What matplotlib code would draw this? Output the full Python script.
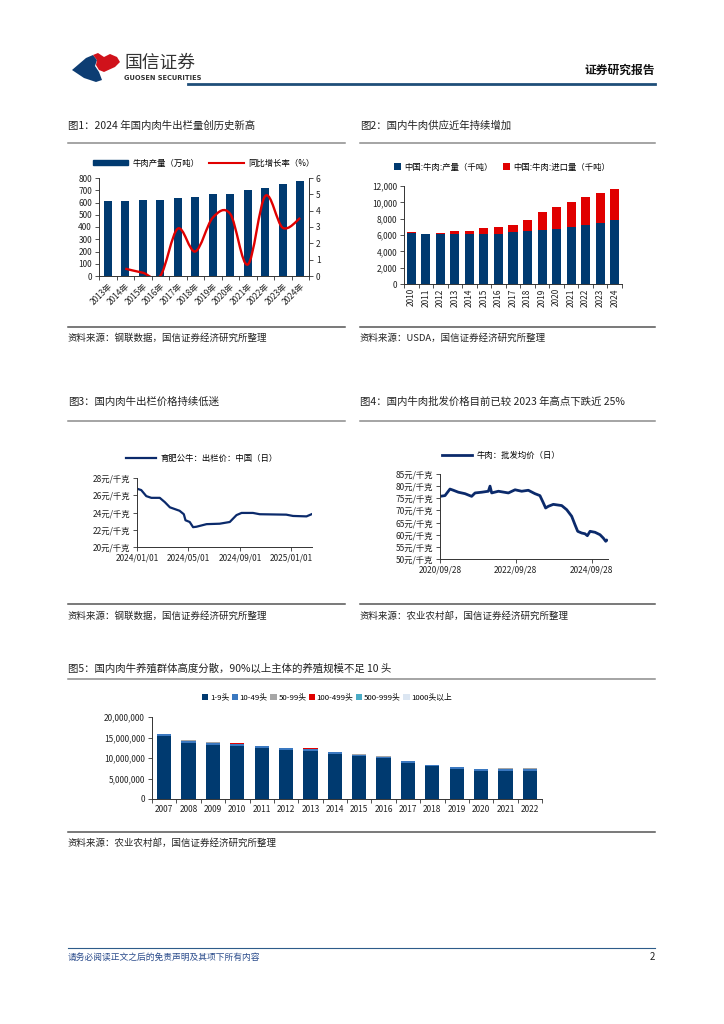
import matplotlib
matplotlib.use("Agg")
import matplotlib.pyplot as plt
import numpy as np
import pandas as pd
import matplotlib.dates as mdates
from matplotlib.lines import Line2D
from matplotlib.patches import Polygon, PathPatch, Patch
from matplotlib.path import Path
from matplotlib.ticker import FuncFormatter

plt.rcParams['font.family'] = ['Noto Sans CJK SC', 'DejaVu Sans']
plt.rcParams['axes.unicode_minus'] = False

W, H = 724, 1024
NAVY = '#003a70'
RED = '#e00000'
GRAY = '#8c8c8c'
TXT = '#222222'

# ---- fig 1: beef output (万吨) and yoy growth (%)
years1 = ['2013年', '2014年', '2015年', '2016年', '2017年', '2018年',
          '2019年', '2020年', '2021年', '2022年', '2023年', '2024年']
beef_output = [613, 616, 617, 617, 635, 644, 667, 672, 698, 718, 753, 779]
growth = [np.nan, 0.45, 0.2, 0.0, 2.9, 1.5, 3.57, 3.8, 0.7, 4.9, 2.95, 3.55]

# ---- fig 2: production & imports (千吨)
years2 = [str(y) for y in range(2010, 2025)]
production2 = [6280, 6090, 6150, 6100, 6150, 6170, 6170, 6350, 6440, 6670,
               6720, 6980, 7180, 7530, 7790]
imports2 = [100, 60, 80, 400, 350, 630, 780, 900, 1410, 2180, 2760, 3000,
            3470, 3570, 3810]

# ---- fig 3: fattening bull price (元/千克)
dates3 = ['2024-01-01', '2024-01-11', '2024-01-23', '2024-02-04', '2024-02-24',
          '2024-03-07', '2024-03-19', '2024-04-11', '2024-04-21', '2024-04-25',
          '2024-05-05', '2024-05-13', '2024-05-21', '2024-06-14', '2024-07-15',
          '2024-08-08', '2024-08-24', '2024-09-05', '2024-10-02', '2024-10-18',
          '2024-12-20', '2025-01-05', '2025-02-06', '2025-02-18']
price3 = [26.76, 26.6, 25.9, 25.7, 25.7, 25.2, 24.6, 24.2, 23.8, 23.1, 22.9,
          22.3, 22.35, 22.65, 22.7, 22.9, 23.7, 23.95, 23.95, 23.8, 23.75,
          23.6, 23.55, 23.8]

# ---- fig 4: beef wholesale price (元/千克)
dates4 = ['2020-09-28', '2020-11-15', '2021-01-02', '2021-02-04', '2021-03-24',
          '2021-05-27', '2021-07-30', '2021-09-01', '2021-11-04', '2022-01-07',
          '2022-01-23', '2022-02-08', '2022-04-14', '2022-07-19', '2022-09-21',
          '2022-11-24', '2023-01-27', '2023-04-01', '2023-05-19', '2023-06-21',
          '2023-07-13', '2023-08-08', '2023-09-25', '2023-12-15', '2024-02-01',
          '2024-03-20', '2024-04-21', '2024-05-17', '2024-06-24', '2024-07-26',
          '2024-08-18', '2024-09-13', '2024-10-31', '2024-12-18', '2025-01-19',
          '2025-02-11', '2025-02-21']
price4 = [75.8, 76.1, 78.8, 78.3, 77.5, 76.9, 75.8, 77.2, 77.5, 77.9, 80.0,
          77.2, 77.9, 77.2, 78.5, 77.9, 78.3, 76.9, 76.1, 73.1, 71.0, 71.7,
          72.5, 72.0, 70.3, 67.6, 64.1, 61.4, 60.7, 60.4, 59.6, 61.4, 61.0,
          60.0, 58.6, 57.3, 57.7]

# ---- fig 5: number of farms by herd size
years5 = [str(y) for y in range(2007, 2023)]
size_labels = ['1-9头', '10-49头', '50-99头', '100-499头', '500-999头', '1000头以上']
size_colors = [NAVY, '#3a78c0', '#a6a6a6', RED, '#4bacc6', '#dce6f2']
farms_1_9 = [15300000, 13660000, 13170000, 12930000, 12440000, 12050000,
             11700000, 10970000, 10500000, 10000000, 8780000, 8050000,
             7320000, 6930000, 6930000, 6930000]
farms_10_49 = [550000, 500000, 600000, 500000, 450000, 400000, 450000, 420000,
               350000, 350000, 450000, 300000, 450000, 420000, 450000, 450000]
farms_50_99 = [40000, 140000, 80000, 60000, 40000, 50000, 40000, 40000,
               50000, 50000, 40000, 50000, 30000, 60000, 60000, 60000]
farms_100_499 = [6000, 6000, 6000, 200000, 6000, 6000, 150000, 6000,
                 6000, 6000, 6000, 6000, 6000, 6000, 6000, 6000]
farms_500_999 = [1000] * 16
farms_1000 = [500] * 16

fig = plt.figure(figsize=(W / 100, H / 100), dpi=100)


def box(l, t, r, b):
    return fig.add_axes([l / W, 1 - b / H, (r - l) / W, (b - t) / H])


def txt(x, y, s, **kw):
    kw.setdefault('va', 'center')
    kw.setdefault('color', TXT)
    fig.text(x / W, 1 - y / H, s, **kw)


def hline(x0, x1, y, **kw):
    fig.add_artist(Line2D([x0 / W, x1 / W], [1 - y / H, 1 - y / H],
                          transform=fig.transFigure, **kw))


def style(ax):
    for s in ['top', 'right']:
        ax.spines[s].set_visible(False)
    for s in ['left', 'bottom']:
        ax.spines[s].set_color('#333333')
        ax.spines[s].set_linewidth(0.7)
    ax.tick_params(labelsize=6, length=3, width=0.6, colors='#333333',
                   labelcolor=TXT, pad=2)


def smooth_path(xs, ys):
    pts = np.column_stack([xs, ys])
    n = len(pts)
    verts = [pts[0]]
    codes = [Path.MOVETO]
    for i in range(n - 1):
        p0, p1 = pts[max(i - 1, 0)], pts[i]
        p2, p3 = pts[i + 1], pts[min(i + 2, n - 1)]
        verts += [p1 + (p2 - p0) / 6, p2 - (p3 - p1) / 6, p2]
        codes += [Path.CURVE4] * 3
    return Path(verts, codes)


# ---------------- header
blue_logo = [(72, 70), (86, 58), (93, 55), (97, 60), (95, 66), (99, 72),
             (102, 80), (96, 82), (84, 78)]
red_logo = [(93, 55), (98, 53), (104, 57), (110, 54), (117, 57), (120, 62),
            (115, 67), (104, 72), (99, 70), (96, 65), (97, 60)]
for pts, c in [(blue_logo, '#0d3d73'), (red_logo, '#d0121b')]:
    fig.add_artist(Polygon([(x / W, 1 - y / H) for x, y in pts], closed=True,
                           transform=fig.transFigure, color=c, lw=0))
txt(124, 63, '国信证券', fontsize=12.8, color='#333333')
txt(124, 78, 'GUOSEN SECURITIES', fontsize=4.8, color='#333333',
    family='DejaVu Sans', fontweight='bold')
txt(655, 70, '证券研究报告', fontsize=8.5, fontweight='bold', ha='right',
    color='#111111')
hline(188, 655, 84, color='#1f4e79', lw=2)

# ---------------- titles / separators / sources
txt(68, 126, '图1：2024 年国内肉牛出栏量创历史新高', fontsize=7.5)
txt(360, 126, '图2：国内牛肉供应近年持续增加', fontsize=7.5)
hline(68, 345, 143, color=GRAY, lw=1.1)
hline(360, 655, 143, color=GRAY, lw=1.1)
hline(68, 345, 327, color='#555555', lw=1.1)
hline(360, 655, 327, color='#555555', lw=1.1)
txt(68, 338, '资料来源：钢联数据，国信证券经济研究所整理', fontsize=6.8)
txt(360, 338, '资料来源：USDA，国信证券经济研究所整理', fontsize=6.8)

txt(68, 402, '图3：国内肉牛出栏价格持续低迷', fontsize=7.5)
txt(360, 402, '图4：国内牛肉批发价格目前已较 2023 年高点下跌近 25%', fontsize=7.5)
hline(68, 345, 421, color=GRAY, lw=1.1)
hline(360, 655, 421, color=GRAY, lw=1.1)
hline(68, 345, 604, color='#555555', lw=1.1)
hline(360, 655, 604, color='#555555', lw=1.1)
txt(68, 616, '资料来源：钢联数据，国信证券经济研究所整理', fontsize=6.8)
txt(360, 616, '资料来源：农业农村部，国信证券经济研究所整理', fontsize=6.8)

txt(68, 668, '图5：国内肉牛养殖群体高度分散，90%以上主体的养殖规模不足 10 头', fontsize=7.5)
hline(68, 655, 679, color=GRAY, lw=1.1)
hline(68, 655, 832, color='#555555', lw=1.1)
txt(68, 843, '资料来源：农业农村部，国信证券经济研究所整理', fontsize=6.8)

hline(68, 655, 948, color='#2e5c8a', lw=0.8)
txt(68, 957, '请务必阅读正文之后的免责声明及其项下所有内容', fontsize=6.3,
    color='#2b4c8c', style='italic')
txt(655, 957, '2', fontsize=7, ha='right')

# ---------------- fig 1
ax1 = box(99, 178, 309, 276)
style(ax1)
x1 = np.arange(len(years1))
ax1.bar(x1, beef_output, width=0.43, color=NAVY)
ax1.set_xlim(-0.5, len(x1) - 0.5)
ax1.set_ylim(0, 800)
ax1.set_yticks(range(0, 801, 100))
ax1.set_xticks(x1)
ax1.set_xticklabels(years1, rotation=45, ha='right', rotation_mode='anchor')
ax1.set_xticks(np.arange(-0.5, len(x1)), minor=True)
ax1.tick_params(axis='x', which='major', length=0, pad=4)
ax1.tick_params(axis='x', which='minor', length=3, width=0.6, colors='#333333')
ax1b = ax1.twinx()
for s in ['top', 'left', 'bottom']:
    ax1b.spines[s].set_visible(False)
ax1b.spines['right'].set_color('#333333')
ax1b.spines['right'].set_linewidth(0.7)
ax1b.tick_params(labelsize=6, length=3, width=0.6, colors='#333333',
                 labelcolor=TXT, pad=2)
ax1b.set_ylim(0, 6)
ax1b.set_yticks(range(0, 7))
ok = ~np.isnan(np.array(growth))
ax1b.add_patch(PathPatch(smooth_path(x1[ok], np.array(growth)[ok]),
                         fill=False, edgecolor=RED, lw=1.7))
h1 = [Patch(color=NAVY), Line2D([], [], color=RED, lw=1.5)]
ax1.legend(h1, ['牛肉产量（万吨）', '同比增长率（%）'], loc='center',
           bbox_to_anchor=(0.5, 1.153), ncol=2, frameon=False, fontsize=6,
           handlelength=4.2, handleheight=0.5, columnspacing=1.2,
           handletextpad=0.5)

# ---------------- fig 2
ax2 = box(404, 186, 622, 284)
style(ax2)
x2 = np.arange(len(years2))
ax2.bar(x2, production2, width=0.62, color=NAVY, label='中国:牛肉:产量（千吨）')
ax2.bar(x2, imports2, width=0.62, bottom=production2, color=RED,
        label='中国:牛肉:进口量（千吨）')
ax2.set_xlim(-0.5, len(x2) - 0.5)
ax2.set_ylim(0, 12000)
ax2.set_yticks(range(0, 12001, 2000))
ax2.yaxis.set_major_formatter(FuncFormatter(lambda v, p: f'{int(v):,}'))
ax2.set_xticks(x2)
ax2.set_xticklabels(years2, rotation=90)
ax2.set_xticks(np.arange(-0.5, len(x2)), minor=True)
ax2.tick_params(axis='x', which='major', length=0, pad=3)
ax2.tick_params(axis='x', which='minor', length=3, width=0.6, colors='#333333')
ax2.legend(loc='center', bbox_to_anchor=(0.45, 1.194), ncol=2, frameon=False,
           fontsize=6, handlelength=0.8, handleheight=0.8, columnspacing=1.2,
           handletextpad=0.4)

# ---------------- fig 3
ax3 = box(137, 478, 312, 547)
style(ax3)
ax3.plot(pd.to_datetime(dates3), price3, color='#0b2a6b', lw=1.6,
         label='育肥公牛：出栏价：中国（日）')
ax3.set_ylim(20, 28)
ax3.set_yticks(range(20, 29, 2))
ax3.yaxis.set_major_formatter(FuncFormatter(lambda v, p: f'{int(v)}元/千克'))
ax3.set_xlim(pd.Timestamp('2024-01-01'), pd.Timestamp('2025-02-19'))
ax3.set_xticks(pd.to_datetime(['2024-01-01', '2024-05-01', '2024-09-01', '2025-01-01']))
ax3.xaxis.set_major_formatter(mdates.DateFormatter('%Y/%m/%d'))
ax3.legend(loc='center', bbox_to_anchor=(0.37, 1.29), frameon=False,
           fontsize=6, handlelength=3.6, handletextpad=0.5)

# ---------------- fig 4
ax4 = box(440, 474, 608, 559)
style(ax4)
ax4.plot(pd.to_datetime(dates4), price4, color='#0b2a6b', lw=2.0,
         label='牛肉：批发均价（日）')
ax4.set_ylim(50, 85)
ax4.set_yticks(range(50, 86, 5))
ax4.yaxis.set_major_formatter(FuncFormatter(lambda v, p: f'{int(v)}元/千克'))
ax4.set_xlim(pd.Timestamp('2020-09-28'), pd.Timestamp('2025-03-05'))
ax4.set_xticks(pd.to_datetime(['2020-09-28', '2022-09-28', '2024-09-28']))
ax4.xaxis.set_major_formatter(mdates.DateFormatter('%Y/%m/%d'))
ax4.legend(loc='center', bbox_to_anchor=(0.363, 1.22), frameon=False,
           fontsize=6, handlelength=3.6, handletextpad=0.5)

# ---------------- fig 5
ax5 = box(152, 717, 542, 799)
style(ax5)
x5 = np.arange(len(years5))
bottom = np.zeros(len(years5))
for vals, lab, col in zip([farms_1_9, farms_10_49, farms_50_99, farms_100_499,
                           farms_500_999, farms_1000], size_labels, size_colors):
    ax5.bar(x5, vals, width=0.58, bottom=bottom, color=col, label=lab)
    bottom += np.array(vals)
ax5.set_xlim(-0.5, len(x5) - 0.5)
ax5.set_ylim(0, 20000000)
ax5.set_yticks(range(0, 20000001, 5000000))
ax5.yaxis.set_major_formatter(FuncFormatter(lambda v, p: f'{int(v):,}'))
ax5.set_xticks(x5)
ax5.set_xticklabels(years5)
ax5.set_xticks(np.arange(-0.5, len(x5)), minor=True)
ax5.tick_params(axis='x', which='major', length=0, pad=4)
ax5.tick_params(axis='x', which='minor', length=3, width=0.6, colors='#333333')
ax5.legend(loc='center', bbox_to_anchor=(0.449, 1.24), ncol=6, frameon=False,
           fontsize=5.6, handlelength=0.8, handleheight=0.8, columnspacing=0.35,
           handletextpad=0.2)

fig.savefig('out.png', dpi=100)
